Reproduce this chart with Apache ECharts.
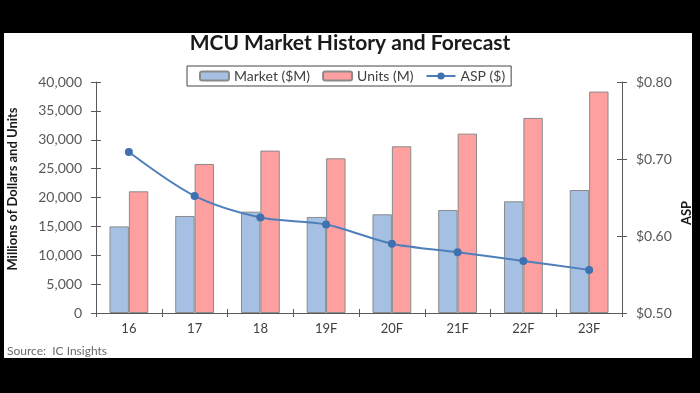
<!DOCTYPE html>
<html>
<head>
<meta charset="utf-8">
<script src="https://cdn.jsdelivr.net/npm/echarts@6/dist/echarts.min.js"></script>
<style>
html,body{margin:0;padding:0;background:#000;}
#c{width:700px;height:393px;}
</style>
</head>
<body>
<div id="c"></div>
<script>
const categories = ['16', '17', '18', '19F', '20F', '21F', '22F', '23F'];
const marketValues = [15000, 16800, 17550, 16630, 17090, 17840, 19340, 21300];
const unitValues = [21070, 25810, 28120, 26790, 28870, 31060, 33780, 38340];
const aspValues = [0.709, 0.652, 0.624, 0.615, 0.590, 0.579, 0.5675, 0.556];
const leftTicks = [0, 5000, 10000, 15000, 20000, 25000, 30000, 35000, 40000];
const rightTicks = [0.5, 0.6, 0.7, 0.8];

const FONT = 'Lato';
const AX = '#595959';
const chart = echarts.init(document.getElementById('c'), null, {renderer: 'canvas'});

const baseY = {
  type: 'value', min: 0, max: 40000, interval: 5000,
  splitLine: {show: false}
};
const baseR = {
  type: 'value', min: 0.5, max: 0.8, interval: 0.1,
  splitLine: {show: false}
};

chart.setOption({
  backgroundColor: '#000',
  animation: false,
  textStyle: {fontFamily: FONT},
  graphic: [
    {type: 'rect', z: -100, silent: true, shape: {x: 4, y: 33, width: 688, height: 325}, style: {fill: '#fff'}},
    {type: 'text', left: 'center', top: 33, style: {text: 'MCU Market History and Forecast', font: 'bold 21px Lato', fill: '#1a1a1a'}},
    {type: 'text', x: 13, y: 189, rotation: Math.PI / 2, style: {text: 'Millions of Dollars and Units', font: 'bold 13px Lato', fill: '#1a1a1a', align: 'center', verticalAlign: 'middle'}},
    {type: 'text', x: 687, y: 213, rotation: Math.PI / 2, style: {text: 'ASP', font: 'bold 13px Lato', fill: '#1a1a1a', align: 'center', verticalAlign: 'middle'}},
    {type: 'text', x: 7, y: 351, style: {text: 'Source:  IC Insights', font: '12px Lato', fill: '#6a6a6a', verticalAlign: 'middle'}}
  ],
  legend: {
    left: 187, top: 66,
    data: ['Market ($M)', 'Units (M)', 'ASP ($)'],
    borderColor: '#444', borderWidth: 1, borderRadius: 0,
    padding: [3, 6, 3, 12],
    itemWidth: 29, itemHeight: 9, itemGap: 12,
    textStyle: {fontFamily: FONT, fontSize: 14, color: '#404040'}
  },
  grid: {left: 96, right: 78, top: 82, bottom: 80, containLabel: false},
  xAxis: [
    {
      type: 'category', data: categories, position: 'bottom',
      axisLine: {show: true, lineStyle: {color: AX, width: 1}},
      axisTick: {show: true, length: 4, lineStyle: {color: AX}},
      axisLabel: {color: '#404040', fontSize: 13, fontFamily: FONT, margin: 9},
      splitLine: {show: false}
    },
    {
      type: 'category', data: categories, position: 'bottom',
      axisLine: {show: false},
      axisTick: {show: true, inside: true, length: 4, lineStyle: {color: AX}},
      axisLabel: {show: false},
      splitLine: {show: false}
    }
  ],
  yAxis: [
    Object.assign({}, baseY, {
      position: 'left',
      axisLine: {show: true, lineStyle: {color: AX, width: 1}},
      axisTick: {show: true, length: 5, lineStyle: {color: AX}},
      axisLabel: {color: AX, fontSize: 14, fontFamily: FONT, margin: 14,
        formatter: v => leftTicks.indexOf(v) >= 0 ? v.toLocaleString('en-US') : ''}
    }),
    Object.assign({}, baseR, {
      position: 'right',
      axisLine: {show: true, lineStyle: {color: AX, width: 1}},
      axisTick: {show: true, length: 5, lineStyle: {color: AX}},
      axisLabel: {color: AX, fontSize: 14, fontFamily: FONT, margin: 14,
        formatter: v => '$' + v.toFixed(2)}
    }),
    Object.assign({}, baseY, {
      position: 'left',
      axisLine: {show: false},
      axisTick: {show: true, inside: true, length: 5, lineStyle: {color: AX}},
      axisLabel: {show: false}
    }),
    Object.assign({}, baseR, {
      position: 'right',
      axisLine: {show: false},
      axisTick: {show: true, inside: true, length: 5, lineStyle: {color: AX}},
      axisLabel: {show: false}
    })
  ],
  series: [
    {
      name: 'Market ($M)', type: 'bar', data: marketValues,
      xAxisIndex: 0, yAxisIndex: 0,
      barGap: '0%', barCategoryGap: '41%',
      itemStyle: {color: '#a5c0e2', borderColor: '#8a8a8a', borderWidth: 1}
    },
    {
      name: 'Units (M)', type: 'bar', data: unitValues,
      xAxisIndex: 0, yAxisIndex: 0,
      barGap: '0%', barCategoryGap: '41%',
      itemStyle: {color: '#ffa0a0', borderColor: '#8a8a8a', borderWidth: 1}
    },
    {
      name: 'ASP ($)', type: 'line', data: aspValues,
      xAxisIndex: 0, yAxisIndex: 1,
      smooth: 0.3,
      symbol: 'circle', symbolSize: 8,
      lineStyle: {color: '#4f7fba', width: 2},
      itemStyle: {color: '#3f70b0'},
      z: 5
    }
  ]
});
</script>
</body>
</html>
